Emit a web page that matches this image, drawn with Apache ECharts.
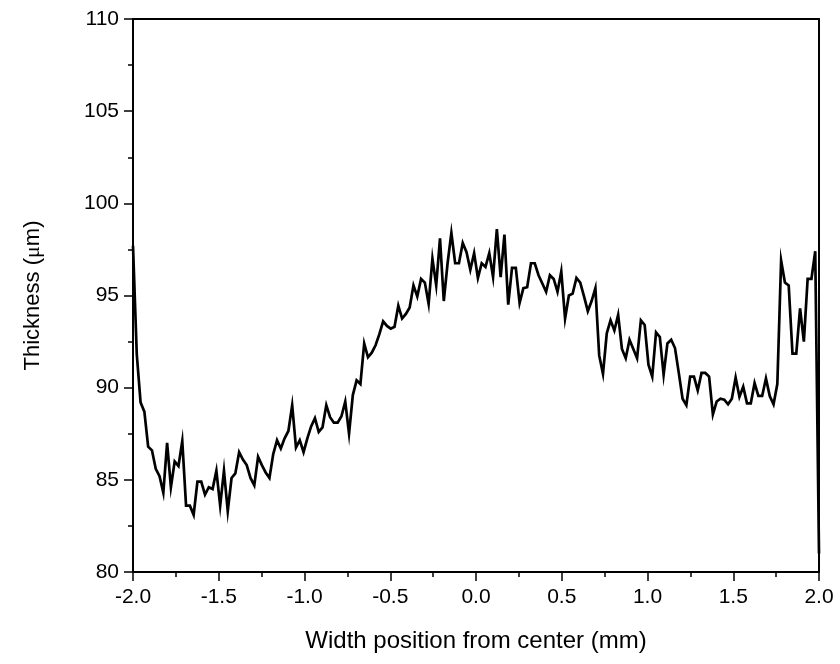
<!DOCTYPE html>
<html>
<head>
<meta charset="utf-8">
<script src="https://cdn.jsdelivr.net/npm/echarts@6/dist/echarts.min.js"></script>
<style>
html,body{margin:0;padding:0;background:#fff;}
#chart{width:840px;height:664px;}
</style>
</head>
<body>
<div id="chart"></div>
<script>
// Sampling grid along the width (mm)
const xStart = -2.0;
const xStep = 0.0221;
// Thickness values (um)
const thickness = [
  97.7, 91.8, 89.2, 88.7, 86.8, 86.6, 85.6, 85.2, 84.3, 87.0,
  84.6, 86.0, 85.75, 87.1, 83.6, 83.6, 83.1, 84.9, 84.9, 84.2,
  84.6, 84.5, 85.5, 83.6, 85.5, 83.3, 85.1, 85.35, 86.5, 86.1,
  85.8, 85.1, 84.7, 86.25, 85.8, 85.4, 85.1, 86.4, 87.15, 86.7,
  87.25, 87.65, 89.05, 86.75, 87.15, 86.5, 87.25, 87.9, 88.35, 87.6,
  87.85, 89.05, 88.4, 88.1, 88.1, 88.45, 89.25, 87.5, 89.6, 90.4,
  90.2, 92.4, 91.65, 91.9, 92.3, 92.9, 93.6, 93.35, 93.2, 93.3,
  94.45, 93.75, 94.0, 94.35, 95.55, 94.95, 95.9, 95.7, 94.55, 97.0,
  95.55, 98.1, 94.7, 96.75, 98.4, 96.75, 96.75, 97.85, 97.35, 96.4,
  97.3, 95.95, 96.75, 96.55, 97.3, 96.0, 98.6, 96.0, 98.3, 94.5,
  96.5, 96.5, 94.6, 95.4, 95.45, 96.75, 96.75, 96.1, 95.65, 95.2,
  96.1, 95.9, 95.2, 96.3, 93.75, 95.0, 95.1, 95.95, 95.7, 94.95,
  94.15, 94.7, 95.4, 91.75, 90.75, 92.95, 93.65, 93.1, 93.95, 92.1,
  91.6, 92.6, 92.1, 91.6, 93.65, 93.4, 91.25, 90.6, 93.0, 92.75,
  90.7, 92.4, 92.6, 92.15, 90.8, 89.4, 89.05, 90.6, 90.6, 89.85,
  90.8, 90.8, 90.6, 88.55, 89.25, 89.4, 89.35, 89.1, 89.4, 90.55,
  89.5, 90.05, 89.15, 89.15, 90.25, 89.55, 89.55, 90.5, 89.55, 89.1,
  90.2, 96.9, 95.7, 95.55, 91.85, 91.85, 94.3, 92.5, 95.9, 95.9,
  97.4, 81.0
];
const xTicks = ['-2.0','-1.5','-1.0','-0.5','0.0','0.5','1.0','1.5','2.0'];
const yTicks = [80, 85, 90, 95, 100, 105, 110];

const seriesData = thickness.map((v, i) => [xStart + i * xStep, v]);

const font = 'Liberation Sans, Arial, sans-serif';
const chart = echarts.init(document.getElementById('chart'), null, {renderer: 'canvas'});
chart.setOption({
  animation: false,
  backgroundColor: '#fff',
  grid: {left: 133, right: 21, top: 19, bottom: 92, containLabel: false},
  xAxis: [{
    type: 'value', min: -2, max: 2, interval: 0.5,
    position: 'bottom',
    name: 'Width position from center (mm)',
    nameLocation: 'middle', nameGap: 57,
    nameTextStyle: {fontFamily: font, fontSize: 24, color: '#000'},
    axisLine: {show: true, onZero: false, lineStyle: {color: '#000', width: 2}},
    axisTick: {show: true, inside: false, length: 9, lineStyle: {color: '#000', width: 1.5}},
    minorTick: {show: true, splitNumber: 2, length: 5, lineStyle: {color: '#000', width: 1.5}},
    axisLabel: {fontFamily: font, fontSize: 21, color: '#000', margin: 15,
      formatter: v => xTicks[Math.round((v + 2) / 0.5)]},
    splitLine: {show: false}
  }, {
    type: 'value', min: -2, max: 2, position: 'top',
    axisLine: {show: true, onZero: false, lineStyle: {color: '#000', width: 2}},
    axisTick: {show: false}, axisLabel: {show: false}, splitLine: {show: false}
  }],
  yAxis: [{
    type: 'value', min: 80, max: 110, interval: 5,
    position: 'left',
    name: '{a|Thickness (}{b|μ}{a|m)}',
    nameLocation: 'middle', nameGap: 89, nameRotate: 90,
    nameTextStyle: {
      fontFamily: font, fontSize: 22, color: '#000',
      rich: {
        a: {fontFamily: font, fontSize: 22, color: '#000'},
        b: {fontFamily: 'Liberation Serif, serif', fontSize: 22, color: '#000'}
      }
    },
    axisLine: {show: true, onZero: false, lineStyle: {color: '#000', width: 2}},
    axisTick: {show: true, inside: false, length: 9, lineStyle: {color: '#000', width: 1.5}},
    minorTick: {show: true, splitNumber: 2, length: 5, lineStyle: {color: '#000', width: 1.5}},
    axisLabel: {fontFamily: font, fontSize: 21, color: '#000', margin: 14,
      formatter: v => String(yTicks[Math.round((v - 80) / 5)])},
    splitLine: {show: false}
  }, {
    type: 'value', min: 80, max: 110, position: 'right',
    axisLine: {show: true, onZero: false, lineStyle: {color: '#000', width: 2}},
    axisTick: {show: false}, axisLabel: {show: false}, splitLine: {show: false}
  }],
  series: [{
    type: 'line',
    xAxisIndex: 0, yAxisIndex: 0,
    data: seriesData,
    showSymbol: false,
    clip: false,
    lineStyle: {color: '#000', width: 2.7, join: 'miter'},
    itemStyle: {color: '#000'}
  }]
});
</script>
</body>
</html>
